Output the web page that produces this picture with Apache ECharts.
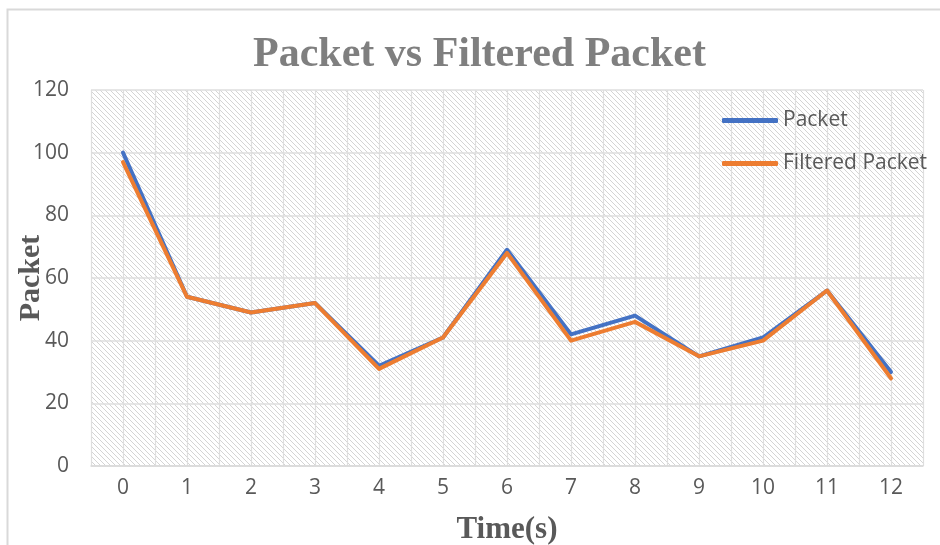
<!DOCTYPE html>
<html>
<head>
<meta charset="utf-8">
<script src="https://cdn.jsdelivr.net/npm/echarts@6/dist/echarts.min.js"></script>
<style>html,body{margin:0;padding:0;background:#fff;}#main{width:940px;height:545px;}</style>
</head>
<body>
<div id="main"></div>
<script>
const categories = ['0','1','2','3','4','5','6','7','8','9','10','11','12'];
const packet = [100, 54, 49, 52, 32, 41, 69, 42, 48, 35, 41, 56, 30];
const filteredPacket = [97, 54, 49, 52, 31, 41, 68, 40, 46, 35, 40, 56, 28];
const yTicks = [0, 20, 40, 60, 80, 100, 120];

const tile = document.createElement('canvas');
tile.width = 5; tile.height = 5;
const tctx = tile.getContext('2d');
tctx.fillStyle = '#fff'; tctx.fillRect(0,0,5,5);
tctx.fillStyle = '#d4d4d4';
for (let i = 0; i < 5; i++) tctx.fillRect(i, i, 1, 1);

const toPairs = arr => arr.map((v, i) => [i, v]);

const chart = echarts.init(document.getElementById('main'), null, {renderer: 'canvas'});
chart.setOption({
  animation: false,
  backgroundColor: '#fff',
  graphic: [{
    type: 'rect', left: 5, top: 7, shape: {width: 950, height: 560},
    style: {fill: 'none', stroke: '#d9d9d9', lineWidth: 2}, silent: true
  }],
  title: {
    text: 'Packet vs Filtered Packet',
    left: 248, top: 29,
    textStyle: {fontFamily: 'Liberation Serif', fontWeight: 'bold', fontSize: 42, color: '#7f7f7f'}
  },
  grid: {
    left: 91, right: 17, top: 90, bottom: 79,
    outerBoundsMode: 'none', containLabel: false,
    show: true, borderWidth: 0,
    backgroundColor: {image: tile, repeat: 'repeat'}
  },
  legend: {
    orient: 'vertical', left: 717, top: 105,
    icon: 'roundRect', itemWidth: 56, itemHeight: 5, itemGap: 22,
    textStyle: {fontFamily: 'Open Sans', fontSize: 21, color: '#595959'},
    data: ['Packet', 'Filtered Packet']
  },
  xAxis: {
    type: 'value', min: -0.5, max: 12.5, interval: 0.5,
    name: 'Time(s)', nameLocation: 'middle', nameGap: 48, nameMoveOverlap: false,
    nameTextStyle: {fontFamily: 'Liberation Serif', fontWeight: 'bold', fontSize: 31, color: '#595959'},
    axisLine: {show: true, lineStyle: {color: '#d9d9d9', width: 1.5}},
    axisTick: {show: false},
    splitLine: {show: true, lineStyle: {color: '#dedede', width: 1.2}},
    axisLabel: {
      margin: 12, fontFamily: 'Open Sans', fontSize: 21, color: '#595959',
      showMinLabel: true, showMaxLabel: true,
      formatter: v => (Number.isInteger(v) && v >= 0 && v < categories.length) ? categories[v] : ''
    }
  },
  yAxis: {
    type: 'value', min: yTicks[0], max: yTicks[yTicks.length-1], interval: 20,
    name: 'Packet', nameLocation: 'middle', nameGap: 45, nameMoveOverlap: false,
    nameTextStyle: {fontFamily: 'Liberation Serif', fontWeight: 'bold', fontSize: 30, color: '#595959'},
    axisLine: {show: false}, axisTick: {show: false},
    splitLine: {show: true, lineStyle: {color: '#dedede', width: 1.5}},
    axisLabel: {margin: 22, fontFamily: 'Open Sans', fontSize: 21, color: '#595959'}
  },
  series: [
    {name: 'Packet', type: 'line', data: toPairs(packet), showSymbol: false, symbol: 'none',
     lineStyle: {width: 4, color: '#4472C4', join: 'round', cap: 'round'}, itemStyle: {color: '#4472C4'}},
    {name: 'Filtered Packet', type: 'line', data: toPairs(filteredPacket), showSymbol: false, symbol: 'none',
     lineStyle: {width: 4, color: '#ED7D31', join: 'round', cap: 'round'}, itemStyle: {color: '#ED7D31'}}
  ]
});
</script>
</body>
</html>
